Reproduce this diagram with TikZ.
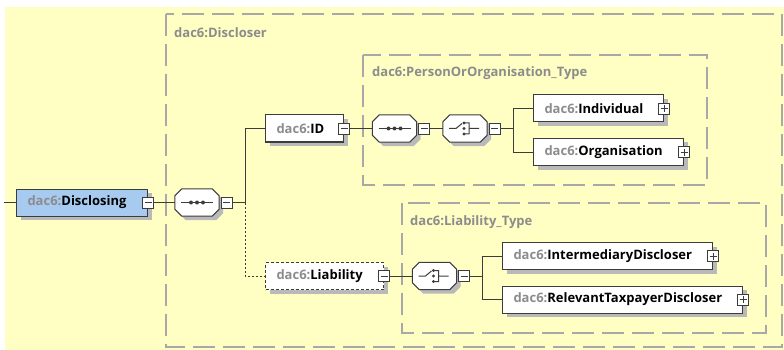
\documentclass[tikz,border=0pt]{standalone}
\usepackage{fontspec}
\setmainfont{Open Sans}
\usepackage{xcolor}
\usetikzlibrary{positioning, shadows}
\definecolor{bgyellow}{RGB}{255,255,196}
\definecolor{elemblue}{RGB}{166,202,240}
\definecolor{boxline}{RGB}{60,60,60}
\definecolor{groupgray}{RGB}{168,168,168}
\definecolor{prefixgray}{RGB}{140,140,140}
\definecolor{shadowgray}{RGB}{185,185,185}
\newcommand{\pfx}{\textcolor{prefixgray}{dac6:}}

\begin{document}
\begin{tikzpicture}[x=1pt, y=-1pt,
        font=\fontsize{13}{15}\selectfont\bfseries,
        boxshadow/.style={drop shadow={shadow xshift=4pt, shadow yshift=-4pt, fill=shadowgray, opacity=1}},
        element/.style={draw=boxline, line width=1pt, fill=white, anchor=west, minimum height=27pt,
          inner xsep=11pt, inner ysep=0pt, text width=#1, align=left, boxshadow},
        toggle/.style={draw=boxline, fill=white, line width=.8pt, minimum size=11pt, inner sep=0pt},
        minusbox/.style={toggle, path picture={\draw[boxline, line width=.8pt, shift={(path picture bounding box.center)}] (-3.5,0) -- (3.5,0);}},
        plusbox/.style={toggle, path picture={\draw[boxline, line width=.8pt, shift={(path picture bounding box.center)}] (-3.5,0) -- (3.5,0) (0,-3.5) -- (0,3.5);}},
        compositor/.style={rectangle, minimum width=44pt, minimum height=27pt, inner sep=0pt,
          append after command={\pgfextra{\draw[boxline, line width=1pt, fill=white, boxshadow]
            ([xshift=7pt]\tikzlastnode.north west) -- ([xshift=-7pt]\tikzlastnode.north east)
            -- ([yshift=-7pt]\tikzlastnode.north east) -- ([yshift=7pt]\tikzlastnode.south east)
            -- ([xshift=-7pt]\tikzlastnode.south east) -- ([xshift=7pt]\tikzlastnode.south west)
            -- ([yshift=7pt]\tikzlastnode.south west) -- ([yshift=-7pt]\tikzlastnode.north west) -- cycle;}}},
        seqcomp/.style={compositor, append after command={\pgfextra{
          \draw[boxline, line width=1pt, shift={(\tikzlastnode.center)}] (-16,0) -- (16,0);
          \foreach \d in {-6,0,6} \fill[boxline, shift={(\tikzlastnode.center)}] (\d,0) circle (2pt);}}},
        choicecomp/.style={compositor, append after command={\pgfextra{
          \draw[boxline, line width=1pt, shift={(\tikzlastnode.center)}]
            (-16,0) -- (-9,0) -- (-3,-5) (0,-5.5) -- (4,-5.5) -- (4,5.5) -- (0,5.5) (4,0) -- (14,0);
          \foreach \d in {-5.5,0,5.5} \fill[boxline, shift={(\tikzlastnode.center)}] (-1,\d) circle (1.6pt);}}},
        group/.style={draw=groupgray, line width=1.3pt, dash pattern=on 22pt off 8pt},
        grouplabel/.style={anchor=west, text=prefixgray, inner sep=0pt},
        link/.style={draw=boxline, line width=1pt},
        optional/.style={dash pattern=on 2pt off 2pt}]
        \useasboundingbox (0,0) rectangle (784,350);
        \fill[bgyellow] (5,7) rectangle (784,350);

        % groups
        \draw[group] (166,14) rectangle (782,347);
        \draw[group] (363,55) rectangle (707,185);
        \draw[group] (402,203) rectangle (766,333);
        \node[grouplabel] (Discloser-lbl) at (174,33) {dac6:Discloser};
        \node[grouplabel] (PersonOrOrganisation-lbl) at (372,73) {dac6:PersonOrOrganisation\_Type};
        \node[grouplabel] (Liability-lbl) at (410,222) {dac6:Liability\_Type};

        % elements
        \node[element=109pt, fill=elemblue] (Disclosing) at (16,202.5) {\pfx Disclosing};
        \node[element=56pt] (ID) at (265,128.5) {\pfx ID};
        \node[element=96pt, densely dashed] (Liability) at (265,276) {\pfx Liability};
        \node[element=108pt] (Individual) at (533,108.5) {\pfx Individual};
        \node[element=128pt] (Organisation) at (533,152) {\pfx Organisation};
        \node[element=188pt] (Intermediary) at (502,256) {\pfx IntermediaryDiscloser};
        \node[element=218pt] (Relevant) at (502,299.5) {\pfx RelevantTaxpayerDiscloser};

        \node[minusbox] (Disclosing-t) at (Disclosing.east) {};
        \node[minusbox] (ID-t) at (ID.east) {};
        \node[minusbox] (Liability-t) at (Liability.east) {};
        \node[plusbox] (Individual-t) at (Individual.east) {};
        \node[plusbox] (Organisation-t) at (Organisation.east) {};
        \node[plusbox] (Intermediary-t) at (Intermediary.east) {};
        \node[plusbox] (Relevant-t) at (Relevant.east) {};

        % compositors
        \node[seqcomp] (seqA) at (197,202.5) {};
        \node[seqcomp] (seqB) at (394.5,128.5) {};
        \node[choicecomp] (choiceA) at (465,128.5) {};
        \node[choicecomp] (choiceB) at (434.5,276) {};
        \node[minusbox, right=1.5pt of seqA] (seqA-t) {};
        \node[minusbox, right=1.5pt of seqB] (seqB-t) {};
        \node[minusbox, right=1.5pt of choiceA] (choiceA-t) {};
        \node[minusbox, right=1.5pt of choiceB] (choiceB-t) {};

        \coordinate (start) at (4,202.5);
        \coordinate (jA) at (245,202.5);
        \coordinate (jB) at (513,128.5);
        \coordinate (jC) at (482,276);

        % connectors
        \path[link]
          (start) edge (Disclosing)
          (Disclosing-t) edge (seqA)
          (seqA-t) edge (jA)
          (ID-t) edge (seqB)
          (seqB-t) edge (choiceA)
          (choiceA-t) edge (jB)
          (Liability-t) edge (choiceB)
          (choiceB-t) edge (jC);
        \draw[link] (jA) |- (ID);
        \draw[link, optional] (jA) |- (Liability);
        \draw[link] (jB) |- (Individual);
        \draw[link] (jB) |- (Organisation);
        \draw[link] (jC) |- (Intermediary);
        \draw[link] (jC) |- (Relevant);
\end{tikzpicture}
\end{document}
